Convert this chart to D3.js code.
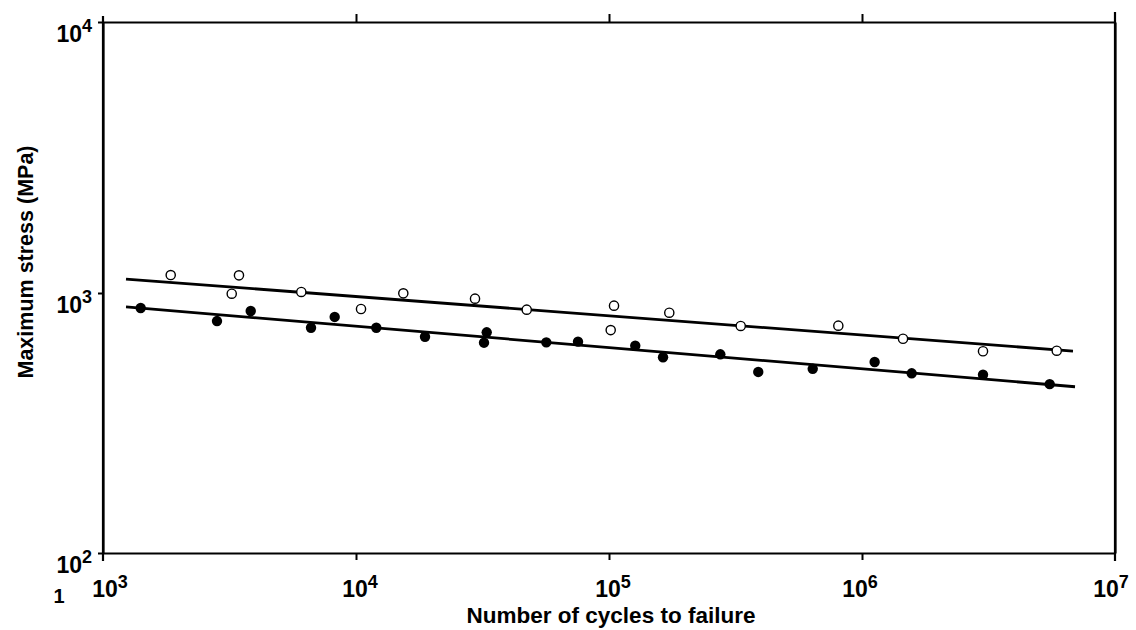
<!DOCTYPE html>
<html>
<head>
<meta charset="utf-8">
<script src="https://cdn.jsdelivr.net/npm/d3@7"></script>
<style>
  html, body { margin: 0; padding: 0; background: #fff; }
  svg { display: block; }
  text { font-family: "Liberation Sans", Arial, Helvetica, sans-serif; font-weight: bold; fill: #000; }
</style>
</head>
<body>
<svg id="chart" width="1136" height="630"></svg>
<script>
// ---- data (cycles N, max stress MPa) ----
const openCycles = [1852, 3447, 3227, 6078, 10467, 15381, 29540, 47290, 104670, 101560, 173100, 331600, 806100, 1452500, 3008000, 5884000];
const openStress = [1165, 1162, 994, 1009, 868, 997, 951, 863, 894, 720, 840, 747, 749, 667, 597, 600];

const filledCycles = [1409, 2822, 3836, 6640, 8236, 12030, 18740, 32860, 32060, 56520, 75430, 127000, 163500, 275400, 389000, 638600, 1122000, 1572000, 3008000, 5520000];
const filledStress = [876, 780, 853, 735, 809, 735, 679, 706, 644, 646, 650, 627, 566, 581, 497, 511, 543, 491, 485, 446];

// fitted lines: endpoints [N, S]
const openFitCycles = [1233, 6823000];
const openFitStress = [1126, 598];
const filledFitCycles = [1233, 6950000];
const filledFitStress = [884, 436];

const xTickValues = [1e3, 1e4, 1e5, 1e6, 1e7];
const xTickExponents = ["3", "4", "5", "6", "7"];
const yTickValues = [1e2, 1e3, 1e4];
const yTickExponents = ["2", "3", "4"];

const xTitle = "Number of cycles to failure";
const yTitle = "Maximum stress (MPa)";

// layout nudges for x tick labels (pixels)
const xLabelNudge = [7, 4, 4, -2, -4];

// ---- scales ----
const svg = d3.select("#chart");
const x = d3.scaleLog().domain([1e3, 1e7]).range([103, 1115]);
const y = d3.scaleLog().domain([1e2, 1e3, 1e4]).range([553, 293, 22]);

const g = svg.append("g");

// axes
const axBottom = g.append("g").attr("transform", `translate(0,${y(1e2)})`)
  .call(d3.axisBottom(x).tickValues([1e4, 1e5, 1e6]).tickSize(7).tickSizeOuter(0).tickFormat(""));
const axTop = g.append("g").attr("transform", `translate(0,${y(1e4)})`)
  .call(d3.axisTop(x).tickValues([1e4, 1e5, 1e6]).tickSize(8).tickSizeOuter(0).tickFormat(""));
const axLeft = g.append("g").attr("transform", `translate(${x(1e3)},0)`)
  .call(d3.axisLeft(y).tickValues(yTickValues).tickSize(5).tickSizeOuter(0).tickFormat(""));
const axRight = g.append("g").attr("transform", `translate(${x(1e7)},0)`)
  .call(d3.axisRight(y).tickValues([]).tickSizeOuter(0).tickFormat(""));

[axBottom, axTop, axLeft, axRight].forEach(a => {
  a.selectAll("path.domain").attr("stroke", "#000").attr("stroke-width", 2.2);
  a.selectAll(".tick line").attr("stroke", "#000").attr("stroke-width", 2);
});

// corner extensions of frame lines
g.append("line").attr("x1", x(1e3)).attr("x2", x(1e3)).attr("y1", y(1e4) - 6).attr("y2", y(1e2) + 8).attr("stroke", "#000").attr("stroke-width", 2.2);
g.append("line").attr("x1", x(1e7)).attr("x2", x(1e7)).attr("y1", y(1e4) - 10).attr("y2", y(1e2) + 8).attr("stroke", "#000").attr("stroke-width", 2.2);

// x tick labels
xTickValues.forEach((v, i) => {
  const t = g.append("text").attr("x", x(v) + xLabelNudge[i]).attr("y", 597).attr("text-anchor", "middle");
  t.append("tspan").style("font-size", "23px").text("10");
  t.append("tspan").style("font-size", "18px").attr("dy", -9).text(xTickExponents[i]);
});

// y tick labels
yTickValues.forEach((v, i) => {
  const t = g.append("text").attr("x", 92).attr("y", y(v) + 20).attr("text-anchor", "end");
  t.append("tspan").style("font-size", "23px").text("10");
  t.append("tspan").style("font-size", "18px").attr("dy", -10).text(yTickExponents[i]);
});

// stray "1" under the origin
g.append("text").attr("x", 59).attr("y", 603).attr("text-anchor", "middle").style("font-size", "20px").text("1");

// titles
g.append("text").attr("x", 611).attr("y", 623).attr("text-anchor", "middle").style("font-size", "22.5px").text(xTitle);
g.append("text").attr("transform", `translate(33,262) rotate(-90)`).attr("text-anchor", "middle").style("font-size", "21.5px").text(yTitle);

// fitted lines
const line = d3.line().x(d => x(d[0])).y(d => y(d[1]));
g.append("path").datum(d3.zip(openFitCycles, openFitStress)).attr("d", line)
  .attr("fill", "none").attr("stroke", "#000").attr("stroke-width", 2.8);
g.append("path").datum(d3.zip(filledFitCycles, filledFitStress)).attr("d", line)
  .attr("fill", "none").attr("stroke", "#000").attr("stroke-width", 2.8);

// points
g.selectAll("circle.open").data(d3.zip(openCycles, openStress)).join("circle")
  .attr("class", "open").attr("cx", d => x(d[0])).attr("cy", d => y(d[1])).attr("r", 4.6)
  .attr("fill", "#fff").attr("stroke", "#000").attr("stroke-width", 1.4);
g.selectAll("circle.filled").data(d3.zip(filledCycles, filledStress)).join("circle")
  .attr("class", "filled").attr("cx", d => x(d[0])).attr("cy", d => y(d[1])).attr("r", 5.2)
  .attr("fill", "#000");
</script>
</body>
</html>
